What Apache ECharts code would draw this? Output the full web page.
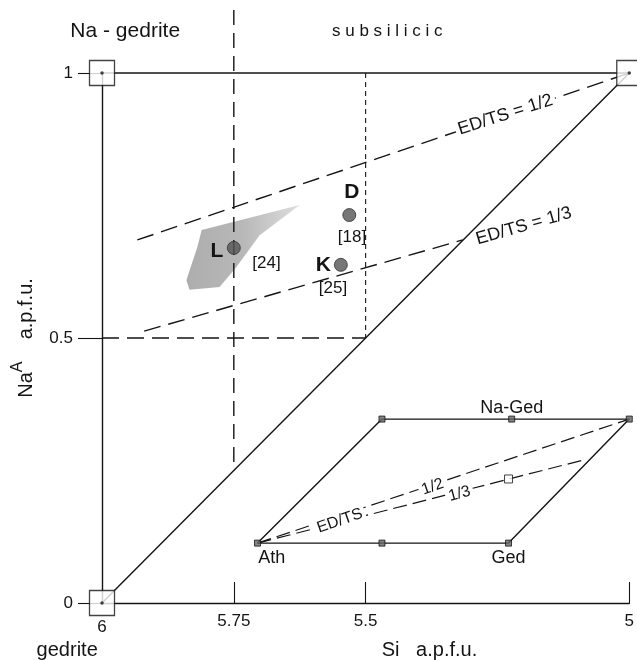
<!DOCTYPE html>
<html><head><meta charset="utf-8">
<script src="https://cdn.jsdelivr.net/npm/echarts@6/dist/echarts.min.js"></script>
<style>html,body{margin:0;padding:0;background:#fff}#c{width:637px;height:660px}</style>
</head><body><div id="c"></div>
<script>
// ---------- data (Si a.p.f.u., Na^A a.p.f.u.) ----------
const xTickValues = [5.75, 5.5, 5];
const xLabelValues = [6, 5.75, 5.5, 5];
const yTickValues = [0, 0.5, 1];

const topEdge = [[6, 1], [5, 1]];
const mainDiagonal = [[6, 0], [5, 1]];
const cornerBoxes = [[6, 0], [6, 1], [5, 1]];
const dashedSi575 = [[5.75, 1.119], [5.75, 0.25]];
const dashedSi55 = [[5.5, 1], [5.5, 0.5]];
const dashedNa05 = [[6, 0.5], [5.5, 0.5]];
const edts12Line = [[5.933, 0.685], [5, 1]];
const edts13Line = [[5.920, 0.513], [5.316, 0.685]];

const sampleNames = ['D', 'K', 'L'];
const sampleSi = [5.531, 5.547, 5.750];
const sampleNa = [0.732, 0.638, 0.670];
const sampleRefs = ['[18]', '[25]', '[24]'];
const sampleNamePos = [[5.526, 0.776], [5.580, 0.638], [5.782, 0.664]];
const sampleRefPos = [[5.526, 0.690], [5.562, 0.594], [5.688, 0.640]];

const fieldL = [[5.811, 0.704], [5.625, 0.751], [5.701, 0.694], [5.745, 0.634],
                [5.777, 0.596], [5.834, 0.591], [5.840, 0.609], [5.819, 0.672]];

const insetOutline = [[5.705, 0.113], [5.229, 0.113], [5.0, 0.347], [5.469, 0.347], [5.705, 0.113]];
const insetNodes = [[5.705, 0.113], [5.469, 0.113], [5.229, 0.113], [5.469, 0.347], [5.223, 0.347], [5.0, 0.347]];
const insetLine12 = [[5.705, 0.113], [5.0, 0.347]];
const insetLine13 = [[5.705, 0.113], [5.086, 0.270]];
const insetOpenPoint = [[5.229, 0.234]];

const titleTexts = ['Na - gedrite', 's u b s i l i c i c', 'gedrite', 'Si   a.p.f.u.'];
const titlePos = [[5.956, 1.079], [5.459, 1.079], [6.066, -0.089], [5.379, -0.089]];
const edtsTexts = ['ED/TS = 1/2', 'ED/TS = 1/3'];
const edtsPos = [[5.235, 0.921], [5.200, 0.711]];
const insetTexts = ['Na-Ged', 'Ath', 'Ged'];
const insetTextPos = [[5.223, 0.368], [5.678, 0.085], [5.229, 0.085]];
const insetLineTexts = ['ED/TS', '1/2', '1/3'];
const insetLineTextPos = [[5.549, 0.155], [5.373, 0.219], [5.322, 0.206]];

// ---------- chart ----------
const FONT = '"Liberation Sans", Arial, Helvetica, sans-serif';
const INK = '#141414';

function seg(data, dash, width) {
  return {
    type: 'line', data: data, symbol: 'none', clip: false, silent: true, z: 3,
    lineStyle: { color: INK, width: width || 1.4, type: dash || 'solid' }
  };
}
function texts(list, pos, style, rotate, bg) {
  return {
    type: 'scatter', symbolSize: 0, clip: false, silent: true, z: 20,
    itemStyle: { color: INK, opacity: 1 },
    data: list.map((t, i) => ({ value: pos[i], name: t })),
    label: Object.assign({
      show: true, position: 'inside', formatter: p => p.name, color: INK,
      fontFamily: FONT, rotate: rotate || 0, textBorderWidth: 0, textBorderColor: 'transparent',
      opacity: 1,
      backgroundColor: bg ? '#fff' : 'transparent', padding: bg ? [0, 3] : 0
    }, style)
  };
}

const chart = echarts.init(document.getElementById('c'), null, { renderer: 'canvas' });
chart.setOption({
  animation: false,
  backgroundColor: '#fff',
  grid: { left: 102, right: 7, top: 73, bottom: 57 },
  xAxis: {
    type: 'value', min: 5, max: 6, inverse: true,
    axisLine: { lineStyle: { color: INK, width: 1.4 } },
    axisTick: { inside: true, length: 21, customValues: xTickValues, lineStyle: { color: INK, width: 1.1 } },
    axisLabel: { customValues: xLabelValues, margin: 10, fontFamily: FONT, fontSize: 17, color: INK,
                 formatter: v => v === 6 ? '{low|6}' : String(v),
                 rich: { low: { fontFamily: FONT, fontSize: 17, color: INK, padding: [6, 0, 0, 0] } } },
    splitLine: { show: false }
  },
  yAxis: {
    type: 'value', min: 0, max: 1, interval: 0.5,
    name: '{n|Na}{s|A}{n|    a.p.f.u.}', nameLocation: 'middle', nameGap: 66, nameRotate: 90,
    nameTextStyle: { fontFamily: FONT, color: INK,
      rich: { n: { fontSize: 20, fontFamily: FONT, color: INK, verticalAlign: 'bottom', lineHeight: 26 },
              s: { fontSize: 16, fontFamily: FONT, color: INK, verticalAlign: 'top', lineHeight: 26 } } },
    axisLine: { lineStyle: { color: INK, width: 1.4 } },
    axisTick: { length: 24, customValues: yTickValues, lineStyle: { color: INK, width: 1.1 } },
    axisLabel: { margin: 29, fontFamily: FONT, fontSize: 17, color: INK, formatter: v => String(v) },
    splitLine: { show: false }
  },
  series: [
    {
      type: 'custom', silent: true, z: 1, clip: false,
      data: [fieldL[0]],
      renderItem: (params, api) => ({
        type: 'polygon',
        shape: { points: fieldL.map(p => api.coord(p)) },
        style: {
          fill: new echarts.graphic.LinearGradient(0, 0, 1, 0, [
            { offset: 0, color: '#adadad' }, { offset: 0.5, color: '#b8b8b8' }, { offset: 1, color: '#dedede' }
          ])
        }
      })
    },
    seg(topEdge),
    seg(mainDiagonal),
    seg(dashedSi575, [15, 8]),
    seg(dashedSi55, [5, 4], 1.1),
    seg(dashedNa05, [17, 8]),
    seg(edts12Line, [17, 8]),
    seg(edts13Line, [17, 8]),
    seg(insetOutline, 'solid', 1.4),
    seg(insetLine12, [14, 6], 1.2),
    seg(insetLine13, [14, 6], 1.2),
    {
      type: 'scatter', data: insetNodes, symbol: 'rect', symbolSize: 6, clip: false, silent: true, z: 5,
      itemStyle: { color: '#666', borderColor: INK, borderWidth: 1 }
    },
    {
      type: 'scatter', data: insetOpenPoint, symbol: 'rect', symbolSize: 8, clip: false, silent: true, z: 5,
      itemStyle: { color: '#fff', borderColor: INK, borderWidth: 1 }
    },
    {
      type: 'scatter', data: cornerBoxes, symbol: 'rect', symbolSize: 25, clip: false, silent: true, z: 6,
      itemStyle: { color: '#fff', borderColor: INK, borderWidth: 1.3 }
    },
    {
      type: 'scatter', data: cornerBoxes, symbol: 'circle', symbolSize: 3.5, clip: false, silent: true, z: 7,
      itemStyle: { color: INK }
    },
    {
      type: 'scatter', clip: false, silent: true, z: 8, symbol: 'circle', symbolSize: 13,
      data: sampleSi.map((s, i) => ({ value: [s, sampleNa[i]], name: sampleNames[i] })),
      itemStyle: { color: '#555', borderColor: '#333', borderWidth: 1 }
    },
    texts(sampleNames, sampleNamePos, { fontSize: 21, fontWeight: 'bold' }),
    texts(sampleRefs, sampleRefPos, { fontSize: 17 }),
    texts(titleTexts.slice(0, 1), titlePos.slice(0, 1), { fontSize: 21 }),
    texts(titleTexts.slice(1, 2), titlePos.slice(1, 2), { fontSize: 17 }),
    texts(titleTexts.slice(2), titlePos.slice(2), { fontSize: 20 }),
    texts(edtsTexts.slice(0, 1), edtsPos.slice(0, 1), { fontSize: 18 }, 18, true),
    texts(edtsTexts.slice(1), edtsPos.slice(1), { fontSize: 18 }, 16, false),
    texts(insetTexts, insetTextPos, { fontSize: 18 }),
    texts(insetLineTexts.slice(0, 2), insetLineTextPos.slice(0, 2), { fontSize: 16 }, 19, true),
    texts(insetLineTexts.slice(2), insetLineTextPos.slice(2), { fontSize: 16 }, 15, true)
  ]
});
</script></body></html>
